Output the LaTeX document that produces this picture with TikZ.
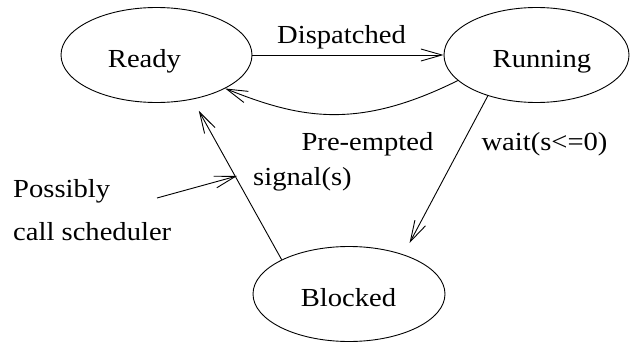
\documentclass[tikz,border=0pt]{standalone}
\usepackage{fontspec}
\usepackage{graphicx}
\setmainfont{Liberation Serif}
\usetikzlibrary{arrows.meta,shapes.geometric}
\newcommand{\wtxt}[1]{\scalebox{1.1}[1]{#1}}
\tikzset{
  state/.style={draw, ellipse, inner sep=0pt, minimum height=95pt, line width=0.9pt},
  txt/.style={inner sep=0pt, font=\fontsize{26}{30}\selectfont},
  link/.style={line width=0.9pt, -{Straight Barb[length=21pt,width=12pt,line width=0.9pt]}}
}
\begin{document}
\begin{tikzpicture}[x=1pt,y=-1pt]
\useasboundingbox (0,0) rectangle (630,343);
\node[state, minimum width=191pt] (ready) at (156.5,55) {};
\node[state, minimum width=185pt] (running) at (536.5,55) {};
\node[state, minimum width=192pt] (blocked) at (349,294) {};
\node[txt, anchor=base] (readyT) at (144.5,67) {\wtxt{Ready}};
\node[txt, anchor=base] (runningT) at (542,67) {\wtxt{Running}};
\node[txt, anchor=base] (blockedT) at (348.5,306) {\wtxt{Blocked}};
\node[txt, anchor=base] (dispT) at (341.5,43) {\wtxt{Dispatched}};
\node[txt, anchor=base] (preT) at (367.5,150) {\wtxt{Pre-empted}};
\node[txt, anchor=base] (waitT) at (544.5,150) {\wtxt{wait(s<=0)}};
\node[txt, anchor=base west] (sigT) at (253,185) {\wtxt{signal(s)}};
\node[txt, anchor=base west] (possT) at (13,197) {\wtxt{Possibly}};
\node[txt, anchor=base west] (callT) at (13,240) {\wtxt{call scheduler}};
\coordinate (pStart) at (157,198);
\coordinate (pEnd) at (237,176);
\draw[link] (ready.east) -- (running.west);
\draw[link] (running.198) .. controls (358,130) and (301,119) .. (ready.-26);
\draw[link, shorten >=13pt] (running.220) -- (blocked.36);
\draw[link, shorten >=13pt] (blocked.153) -- (ready.-51);
\draw[link] (pStart) -- (pEnd);
\end{tikzpicture}
\end{document}
